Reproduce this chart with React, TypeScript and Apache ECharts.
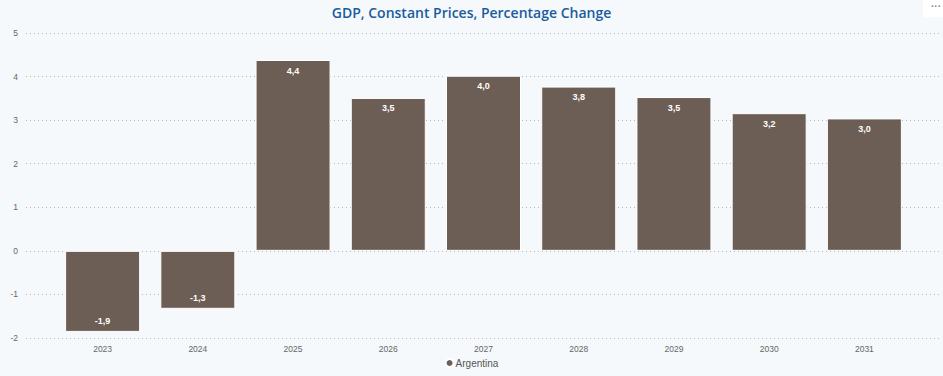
import React, { useEffect, useRef } from "react";
import * as echarts from "echarts";

const years = ["2023", "2024", "2025", "2026", "2027", "2028", "2029", "2030", "2031"];
const gdpChange = [-1.86, -1.33, 4.38, 3.51, 4.02, 3.77, 3.53, 3.16, 3.04];
const seriesName = "Argentina";
const titleText = "GDP, Constant Prices, Percentage Change";

const BAR = "#6c5e54";

export default function App() {
  const ref = useRef<HTMLDivElement>(null);
  useEffect(() => {
    const chart = echarts.init(ref.current!, null, { renderer: "svg" });
    const fmt = (v: number) => v.toFixed(1).replace(".", ",");
    chart.setOption({
      animation: false,
      backgroundColor: "#f5f9fc",
      title: {
        text: titleText,
        left: "center",
        top: 0,
        textStyle: { color: "#1b5ba0", fontSize: 14, fontWeight: 600, fontFamily: "Open Sans" },
      },
      legend: {
        bottom: 3,
        left: "center",
        icon: "circle",
        itemWidth: 8,
        itemHeight: 8,
        itemGap: 4,
        textStyle: { color: "#555", fontSize: 10, fontFamily: "Liberation Sans", padding: [0, 0, 0, -3] },
        data: [seriesName],
      },
      graphic: [
        { type: "rect", right: 0, top: 0, shape: { width: 20, height: 17 }, style: { fill: "#ffffff" } },
        { type: "text", right: 2, top: 1, style: { text: "···", fill: "#888", font: "bold 10px sans-serif" } },
      ],
      grid: [
        { left: 26, right: 3, top: 33, bottom: 38 },
        { left: 55, right: 31, top: 33, bottom: 38 },
      ],
      xAxis: [
        { type: "value", gridIndex: 0, show: false, min: 0, max: 1 },
        {
          type: "category",
          gridIndex: 1,
          data: years,
          axisLine: { show: false },
          axisTick: { show: false },
          axisLabel: { color: "#666", fontSize: 8.5, fontFamily: "Liberation Sans", margin: 6 },
        },
      ],
      yAxis: [
        {
          type: "value",
          gridIndex: 0,
          min: -2,
          max: 5,
          interval: 1,
          axisLine: { show: false },
          axisTick: { show: false },
          axisLabel: { color: "#666", fontSize: 8.5, fontFamily: "Liberation Sans", margin: 8 },
          splitLine: { lineStyle: { type: [1, 3], color: "#b8b8b8", width: 1 } },
        },
        {
          type: "value",
          gridIndex: 1,
          min: -2,
          max: 5,
          interval: 1,
          axisLine: { show: false },
          axisTick: { show: false },
          axisLabel: { show: false },
          splitLine: { show: false },
        },
      ],
      series: [
        {
          name: seriesName,
          type: "bar",
          xAxisIndex: 1,
          yAxisIndex: 1,
          barWidth: 75,
          itemStyle: { color: BAR, borderColor: "#ffffff", borderWidth: 1 },
          data: gdpChange.map((v) => ({
            value: v,
            label: { position: v < 0 ? "insideBottom" : "insideTop" },
          })),
          label: {
            show: true,
            distance: 6,
            color: "#ffffff",
            fontSize: 9,
            fontWeight: "bold",
            fontFamily: "Liberation Sans",
            formatter: (p: any) => fmt(p.value),
          },
        },
      ],
    });
    return () => chart.dispose();
  }, []);
  return <div ref={ref} style={{ width: 943, height: 376, position: "absolute", left: 0, top: 0 }} />;
}
